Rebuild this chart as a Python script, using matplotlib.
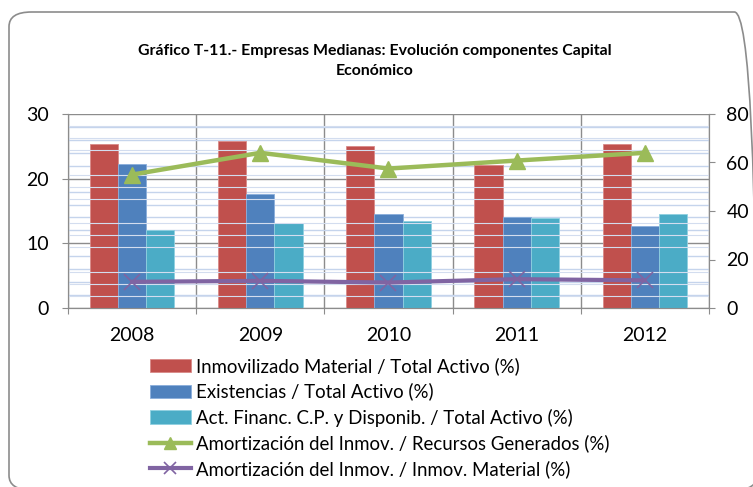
import numpy as np
import matplotlib.pyplot as plt
from matplotlib.patches import FancyBboxPatch
from matplotlib.ticker import MultipleLocator

years = ["2008", "2009", "2010", "2011", "2012"]
inmovilizado = [25.4, 25.8, 25.1, 22.1, 25.4]
existencias = [22.3, 17.6, 14.6, 14.1, 12.7]
act_financ = [12.1, 13.1, 13.5, 13.9, 14.6]
amort_recursos = [55.0, 64.0, 57.5, 60.8, 64.0]
amort_inmov = [10.8, 11.2, 10.5, 11.9, 11.4]

labels = ["Inmovilizado Material / Total Activo (%)",
          "Existencias / Total Activo (%)",
          "Act. Financ. C.P. y Disponib. / Total Activo (%)",
          "Amortización del Inmov. / Recursos Generados (%)",
          "Amortización del Inmov. / Inmov. Material (%)"]

plt.rcParams['font.family'] = ['Lato', 'DejaVu Sans']

W, H = 753, 487
fig = plt.figure(figsize=(W / 100, H / 100), dpi=100)

# rounded chart border
border = FancyBboxPatch((9 / W, 1 - 490 / H), (757 - 9) / W, (490 - 12) / H,
                        boxstyle="round,pad=0,rounding_size=0.03",
                        transform=fig.transFigure, fc="none", ec="#8c8c8c",
                        lw=1.2, clip_on=False)
fig.patches.append(border)

ax = fig.add_axes([68 / W, 1 - 308 / H, (709 - 68) / W, (308 - 114) / H])
ax2 = ax.twinx()
ax.set_zorder(ax2.get_zorder() - 1)
ax.patch.set_visible(True)
ax2.patch.set_visible(False)

x = np.arange(len(years))
bw = 0.22
ax.bar(x - bw, inmovilizado, bw, color="#C0504D", ec="#d88a88", lw=0.6, zorder=3, label=labels[0])
ax.bar(x, existencias, bw, color="#4F81BD", ec="#8aaedb", lw=0.6, zorder=3, label=labels[1])
ax.bar(x + bw, act_financ, bw, color="#4BACC6", ec="#8fd0e0", lw=0.6, zorder=3, label=labels[2])

ax.set_ylim(0, 30)
ax.set_xlim(-0.5, 4.5)
ax.yaxis.set_major_locator(MultipleLocator(10))
ax.yaxis.set_minor_locator(MultipleLocator(2))
ax.grid(axis="y", which="major", color="#8c8c8c", lw=1.0, zorder=1)
ax.grid(axis="y", which="minor", color="#c5d4ec", lw=1.0, zorder=0)
ax.tick_params(axis="y", which="minor", length=0)
ax.tick_params(axis="y", which="major", length=4.5, color="#8c8c8c", labelsize=14, pad=9)

ax.set_xticks(np.arange(-0.5, 5, 1))
ax.set_xticklabels([])
ax.set_xticks(x, minor=True)
ax.set_xticklabels(years, minor=True)
ax.tick_params(axis="x", which="minor", length=0, labelsize=14, pad=14)
ax.tick_params(axis="x", which="major", length=4, color="#8c8c8c")
ax.grid(axis="x", which="major", color="#8c8c8c", lw=1.0, zorder=1)

for s in ax.spines.values():
    s.set_color("#8c8c8c")
ax.spines["top"].set_visible(False)

l1, = ax2.plot(x, amort_recursos, color="#9BBB59", lw=3.2, marker="^", ms=11,
               zorder=4, label=labels[3])
l2, = ax2.plot(x, amort_inmov, color="#8064A2", lw=3.0, marker="x", ms=11,
               mew=1.2, zorder=4, label=labels[4])
ax2.set_ylim(0, 80)
ax2.yaxis.set_major_locator(MultipleLocator(20))
ax2.yaxis.set_minor_locator(MultipleLocator(5))
ax2.grid(axis="y", which="minor", color="#d3ddef", lw=0.8, zorder=0)
ax2.set_axisbelow(True)
ax2.tick_params(axis="y", which="minor", length=0)
ax2.tick_params(axis="y", which="major", length=4.5, color="#8c8c8c", labelsize=14, pad=8)
for s in ax2.spines.values():
    s.set_color("#8c8c8c")
ax2.spines["top"].set_visible(False)

fig.text(375 / W, 1 - 61 / H, "Gráfico T-11.- Empresas Medianas: Evolución componentes Capital\nEconómico",
         ha="center", va="center", fontsize=11.4, fontweight="bold", linespacing=1.55)

h1, lab1 = ax.get_legend_handles_labels()
leg = fig.legend(h1 + [l1, l2], lab1 + [labels[3], labels[4]],
                 loc="upper left", bbox_to_anchor=(150 / W, 1 - 357 / H),
                 frameon=False, fontsize=13.4, handlelength=2.2, handletextpad=0.25,
                 labelspacing=0.42, borderpad=0, borderaxespad=0, markerscale=0.75)

fig.savefig("out.png", dpi=100)
